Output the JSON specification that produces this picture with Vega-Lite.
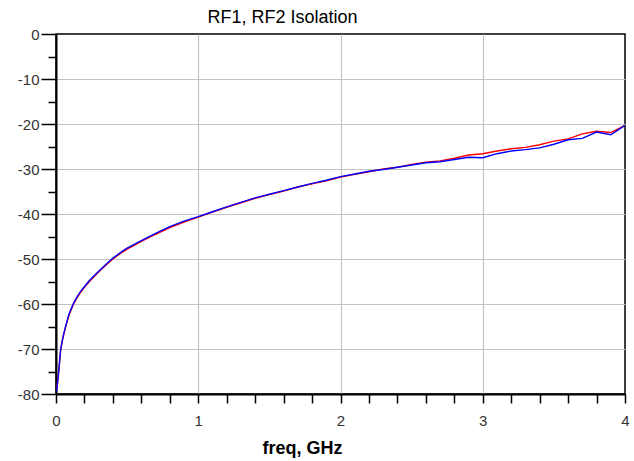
{
  "$schema": "https://vega.github.io/schema/vega-lite/v6.json",
  "width": 569,
  "height": 360,
  "autosize": {"type": "none"},
  "padding": {"left": 56, "top": 34, "right": 9, "bottom": 67},
  "background": "white",
  "title": {
    "text": "RF1, RF2 Isolation",
    "font": "Liberation Sans",
    "fontSize": 18,
    "fontWeight": "normal",
    "color": "black",
    "anchor": "middle",
    "frame": "group",
    "dx": -58,
    "offset": 0
  },
  "config": {
    "view": {"stroke": "black", "strokeWidth": 1.5},
    "axis": {
      "labelFont": "Liberation Sans",
      "labelFontSize": 15,
      "labelColor": "#333333",
      "titleFont": "Liberation Sans",
      "domainColor": "black",
      "domainWidth": 2,
      "tickColor": "black",
      "tickWidth": 1.5,
      "gridColor": "#c4c4c4",
      "gridWidth": 1.2
    }
  },
  "data": {
    "values": [
      {"freq": 0.005, "dB": -79.0, "trace": "RF1"},
      {"freq": 0.01, "dB": -77.6, "trace": "RF1"},
      {"freq": 0.019, "dB": -75.0, "trace": "RF1"},
      {"freq": 0.026, "dB": -72.6, "trace": "RF1"},
      {"freq": 0.033, "dB": -70.2, "trace": "RF1"},
      {"freq": 0.049, "dB": -67.5, "trace": "RF1"},
      {"freq": 0.068, "dB": -65.1, "trace": "RF1"},
      {"freq": 0.091, "dB": -62.5, "trace": "RF1"},
      {"freq": 0.122, "dB": -60.1, "trace": "RF1"},
      {"freq": 0.15, "dB": -58.5, "trace": "RF1"},
      {"freq": 0.173, "dB": -57.4, "trace": "RF1"},
      {"freq": 0.2, "dB": -56.3, "trace": "RF1"},
      {"freq": 0.232, "dB": -55.1, "trace": "RF1"},
      {"freq": 0.25, "dB": -54.5, "trace": "RF1"},
      {"freq": 0.3, "dB": -52.9, "trace": "RF1"},
      {"freq": 0.35, "dB": -51.4, "trace": "RF1"},
      {"freq": 0.4, "dB": -50.0, "trace": "RF1"},
      {"freq": 0.47, "dB": -48.4, "trace": "RF1"},
      {"freq": 0.5, "dB": -47.8, "trace": "RF1"},
      {"freq": 0.6, "dB": -46.1, "trace": "RF1"},
      {"freq": 0.7, "dB": -44.5, "trace": "RF1"},
      {"freq": 0.8, "dB": -43.0, "trace": "RF1"},
      {"freq": 0.9, "dB": -41.8, "trace": "RF1"},
      {"freq": 1.0, "dB": -40.7, "trace": "RF1"},
      {"freq": 1.1, "dB": -39.6, "trace": "RF1"},
      {"freq": 1.2, "dB": -38.5, "trace": "RF1"},
      {"freq": 1.3, "dB": -37.5, "trace": "RF1"},
      {"freq": 1.4, "dB": -36.5, "trace": "RF1"},
      {"freq": 1.5, "dB": -35.7, "trace": "RF1"},
      {"freq": 1.6, "dB": -34.9, "trace": "RF1"},
      {"freq": 1.7, "dB": -34.0, "trace": "RF1"},
      {"freq": 1.8, "dB": -33.3, "trace": "RF1"},
      {"freq": 1.9, "dB": -32.6, "trace": "RF1"},
      {"freq": 2.0, "dB": -31.8, "trace": "RF1"},
      {"freq": 2.1, "dB": -31.2, "trace": "RF1"},
      {"freq": 2.2, "dB": -30.6, "trace": "RF1"},
      {"freq": 2.3, "dB": -30.0, "trace": "RF1"},
      {"freq": 2.4, "dB": -29.6, "trace": "RF1"},
      {"freq": 2.5, "dB": -29.0, "trace": "RF1"},
      {"freq": 2.6, "dB": -28.5, "trace": "RF1"},
      {"freq": 2.7, "dB": -28.2, "trace": "RF1"},
      {"freq": 2.8, "dB": -27.6, "trace": "RF1"},
      {"freq": 2.9, "dB": -26.9, "trace": "RF1"},
      {"freq": 3.0, "dB": -26.6, "trace": "RF1"},
      {"freq": 3.1, "dB": -26.0, "trace": "RF1"},
      {"freq": 3.2, "dB": -25.5, "trace": "RF1"},
      {"freq": 3.3, "dB": -25.2, "trace": "RF1"},
      {"freq": 3.4, "dB": -24.6, "trace": "RF1"},
      {"freq": 3.5, "dB": -23.8, "trace": "RF1"},
      {"freq": 3.6, "dB": -23.3, "trace": "RF1"},
      {"freq": 3.7, "dB": -22.2, "trace": "RF1"},
      {"freq": 3.8, "dB": -21.6, "trace": "RF1"},
      {"freq": 3.9, "dB": -21.9, "trace": "RF1"},
      {"freq": 4.0, "dB": -20.3, "trace": "RF1"},
      {"freq": 0.005, "dB": -79.4, "trace": "RF2"},
      {"freq": 0.01, "dB": -77.8, "trace": "RF2"},
      {"freq": 0.019, "dB": -75.1, "trace": "RF2"},
      {"freq": 0.026, "dB": -72.4, "trace": "RF2"},
      {"freq": 0.033, "dB": -70.0, "trace": "RF2"},
      {"freq": 0.049, "dB": -67.3, "trace": "RF2"},
      {"freq": 0.068, "dB": -64.9, "trace": "RF2"},
      {"freq": 0.091, "dB": -62.3, "trace": "RF2"},
      {"freq": 0.122, "dB": -59.9, "trace": "RF2"},
      {"freq": 0.15, "dB": -58.3, "trace": "RF2"},
      {"freq": 0.173, "dB": -57.2, "trace": "RF2"},
      {"freq": 0.2, "dB": -56.1, "trace": "RF2"},
      {"freq": 0.232, "dB": -54.9, "trace": "RF2"},
      {"freq": 0.25, "dB": -54.3, "trace": "RF2"},
      {"freq": 0.3, "dB": -52.7, "trace": "RF2"},
      {"freq": 0.35, "dB": -51.2, "trace": "RF2"},
      {"freq": 0.4, "dB": -49.8, "trace": "RF2"},
      {"freq": 0.47, "dB": -48.2, "trace": "RF2"},
      {"freq": 0.5, "dB": -47.6, "trace": "RF2"},
      {"freq": 0.6, "dB": -45.9, "trace": "RF2"},
      {"freq": 0.7, "dB": -44.3, "trace": "RF2"},
      {"freq": 0.8, "dB": -42.8, "trace": "RF2"},
      {"freq": 0.9, "dB": -41.6, "trace": "RF2"},
      {"freq": 1.0, "dB": -40.6, "trace": "RF2"},
      {"freq": 1.1, "dB": -39.5, "trace": "RF2"},
      {"freq": 1.2, "dB": -38.4, "trace": "RF2"},
      {"freq": 1.3, "dB": -37.4, "trace": "RF2"},
      {"freq": 1.4, "dB": -36.4, "trace": "RF2"},
      {"freq": 1.5, "dB": -35.6, "trace": "RF2"},
      {"freq": 1.6, "dB": -34.8, "trace": "RF2"},
      {"freq": 1.7, "dB": -34.0, "trace": "RF2"},
      {"freq": 1.8, "dB": -33.2, "trace": "RF2"},
      {"freq": 1.9, "dB": -32.5, "trace": "RF2"},
      {"freq": 2.0, "dB": -31.7, "trace": "RF2"},
      {"freq": 2.1, "dB": -31.1, "trace": "RF2"},
      {"freq": 2.2, "dB": -30.5, "trace": "RF2"},
      {"freq": 2.3, "dB": -30.1, "trace": "RF2"},
      {"freq": 2.4, "dB": -29.6, "trace": "RF2"},
      {"freq": 2.5, "dB": -29.1, "trace": "RF2"},
      {"freq": 2.6, "dB": -28.6, "trace": "RF2"},
      {"freq": 2.7, "dB": -28.4, "trace": "RF2"},
      {"freq": 2.8, "dB": -27.9, "trace": "RF2"},
      {"freq": 2.9, "dB": -27.4, "trace": "RF2"},
      {"freq": 3.0, "dB": -27.5, "trace": "RF2"},
      {"freq": 3.1, "dB": -26.6, "trace": "RF2"},
      {"freq": 3.2, "dB": -26.0, "trace": "RF2"},
      {"freq": 3.3, "dB": -25.7, "trace": "RF2"},
      {"freq": 3.4, "dB": -25.3, "trace": "RF2"},
      {"freq": 3.5, "dB": -24.5, "trace": "RF2"},
      {"freq": 3.6, "dB": -23.5, "trace": "RF2"},
      {"freq": 3.7, "dB": -23.2, "trace": "RF2"},
      {"freq": 3.8, "dB": -21.8, "trace": "RF2"},
      {"freq": 3.9, "dB": -22.4, "trace": "RF2"},
      {"freq": 4.0, "dB": -20.3, "trace": "RF2"}
    ]
  },
  "mark": {"type": "line", "strokeWidth": 1.4, "clip": true},
  "encoding": {
    "x": {
      "field": "freq",
      "type": "quantitative",
      "scale": {"domain": [0, 4], "nice": false, "zero": false},
      "axis": {
        "title": "freq, GHz",
        "titleFontSize": 18,
        "titleFontWeight": "bold",
        "titleColor": "black",
        "titleX": 246,
        "titleY": 59,
        "titleBaseline": "alphabetic",
        "titleAlign": "center",
        "values": [0, 0.2, 0.4, 0.6, 0.8, 1, 1.2, 1.4, 1.6, 1.8, 2, 2.2, 2.4, 2.6, 2.8, 3, 3.2, 3.4, 3.6, 3.8, 4],
        "labelExpr": "datum.value % 1 === 0 ? toString(datum.value) : ''",
        "tickSize": 9,
        "labelPadding": 10,
        "labelFlush": false,
        "labelOverlap": false,
        "grid": true,
        "gridOpacity": {"condition": {"test": "datum.value % 1 === 0 && datum.value > 0 && datum.value < 4", "value": 1}, "value": 0}
      }
    },
    "y": {
      "field": "dB",
      "type": "quantitative",
      "scale": {"domain": [-80, 0], "nice": false, "zero": false},
      "axis": {
        "title": null,
        "values": [-80, -75, -70, -65, -60, -55, -50, -45, -40, -35, -30, -25, -20, -15, -10, -5, 0],
        "labelExpr": "datum.value % 10 === 0 ? toString(datum.value) : ''",
        "tickSize": {"condition": {"test": "datum.value % 10 === 0", "value": 15}, "value": 8},
        "labelPadding": 2,
        "labelFlush": false,
        "labelOverlap": false,
        "grid": true,
        "gridOpacity": {"condition": {"test": "datum.value % 10 === 0 && datum.value > -80 && datum.value < 0", "value": 1}, "value": 0}
      }
    },
    "color": {
      "field": "trace",
      "type": "nominal",
      "scale": {"domain": ["RF1", "RF2"], "range": ["#ff0000", "#0000ff"]},
      "legend": null
    }
  }
}
